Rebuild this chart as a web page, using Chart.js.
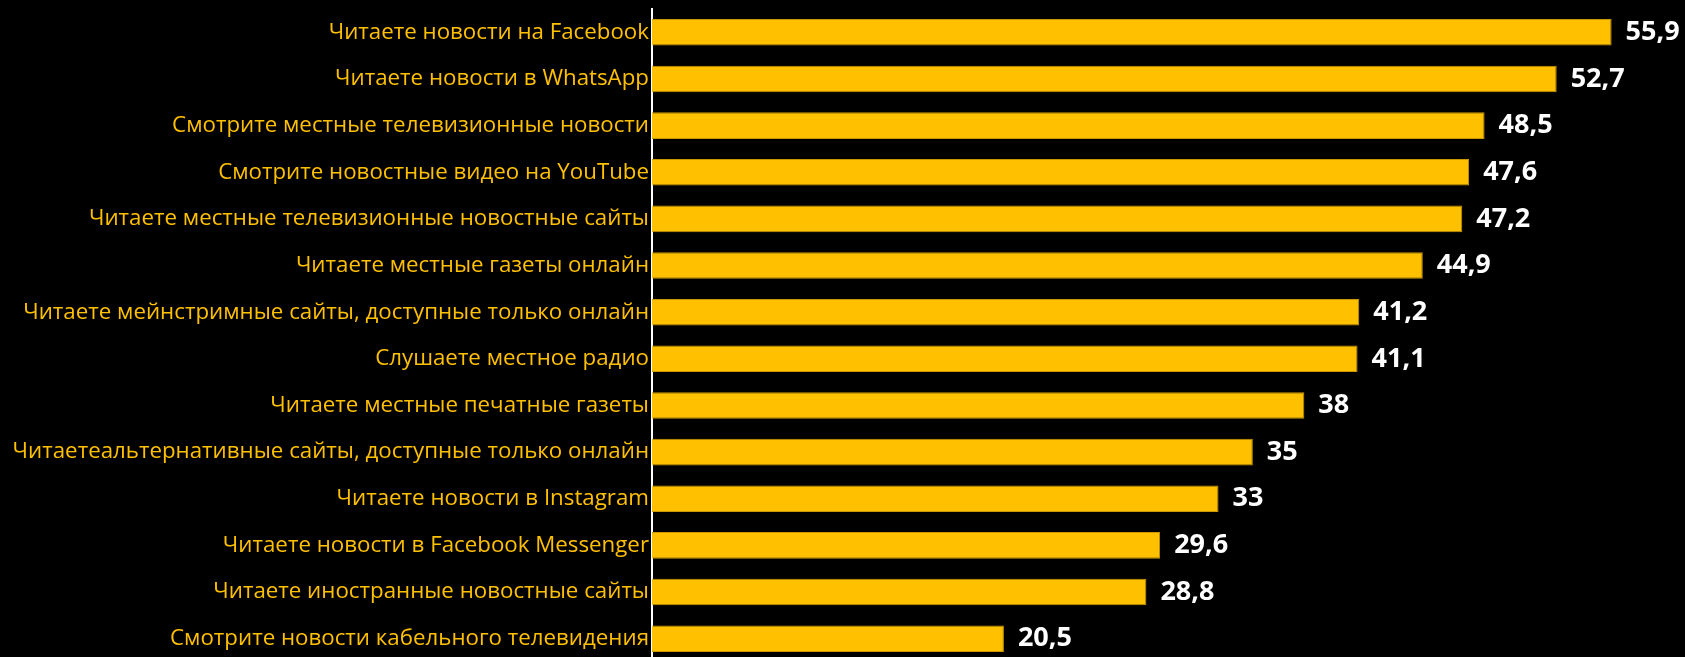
<!DOCTYPE html>
<html>
<head>
<meta charset="utf-8">
<script src="https://cdn.jsdelivr.net/npm/chart.js@4/dist/chart.umd.min.js"></script>
<style>
  html, body { margin: 0; padding: 0; background: #000; overflow: hidden; }
  .container { position: relative; width: 1685px; height: 662px; }
</style>
</head>
<body>
<div class="container">
  <canvas id="newsChart"></canvas>
</div>
<script>
// categories (top to bottom)
const categories = [
  'Читаете новости на Facebook',
  'Читаете новости в WhatsApp',
  'Смотрите местные телевизионные новости',
  'Смотрите новостные видео на YouTube',
  'Читаете местные телевизионные новостные сайты',
  'Читаете местные газеты онлайн',
  'Читаете мейнстримные сайты, доступные только онлайн',
  'Слушаете местное радио',
  'Читаете местные печатные газеты',
  'Читаетеальтернативные сайты, доступные только онлайн',
  'Читаете новости в Instagram',
  'Читаете новости в Facebook Messenger',
  'Читаете иностранные новостные сайты',
  'Смотрите новости кабельного телевидения'
];

const shares = [55.9, 52.7, 48.5, 47.6, 47.2, 44.9, 41.2, 41.1, 38, 35, 33, 29.6, 28.8, 20.5];

const xMin = 0;
const xMax = 60;

const GOLD = '#FFC000';

// value labels to the right of each bar
const valueLabels = {
  id: 'valueLabels',
  afterDatasetsDraw(chart) {
    const ctx = chart.ctx;
    const meta = chart.getDatasetMeta(0);
    ctx.save();
    ctx.fillStyle = '#ffffff';
    ctx.font = 'bold 27px "Open Sans"';
    ctx.textAlign = 'left';
    ctx.textBaseline = 'middle';
    meta.data.forEach((bar, i) => {
      const txt = String(shares[i]).replace('.', ',');
      ctx.fillText(txt, bar.x + 14, bar.y);
    });
    ctx.restore();
  }
};

new Chart(document.getElementById('newsChart'), {
  type: 'bar',
  data: {
    labels: categories,
    datasets: [{
      data: shares,
      backgroundColor: GOLD,
      borderColor: '#C99700',
      borderWidth: 1,
      barPercentage: 0.57,
      categoryPercentage: 1.0
    }]
  },
  options: {
    indexAxis: 'y',
    responsive: true,
    maintainAspectRatio: false,
    animation: false,
    layout: {
      padding: { top: 9, right: 3, bottom: 0, left: 0 }
    },
    plugins: {
      legend: { display: false },
      tooltip: { enabled: false }
    },
    scales: {
      x: {
        display: false,
        min: xMin,
        max: xMax
      },
      y: {
        grid: { display: false, drawTicks: false },
        border: { display: true, color: '#ffffff', width: 2 },
        ticks: {
          color: GOLD,
          padding: 3,
          autoSkip: false,
          font: { family: '"Open Sans"', size: 22.3 }
        },
        afterFit(scale) {
          scale.width = 652;
          // labels sit in the middle of each band, no extra room needed
          scale.paddingTop = 0;
          scale.paddingBottom = 0;
        }
      }
    }
  },
  plugins: [valueLabels]
});
</script>
</body>
</html>
